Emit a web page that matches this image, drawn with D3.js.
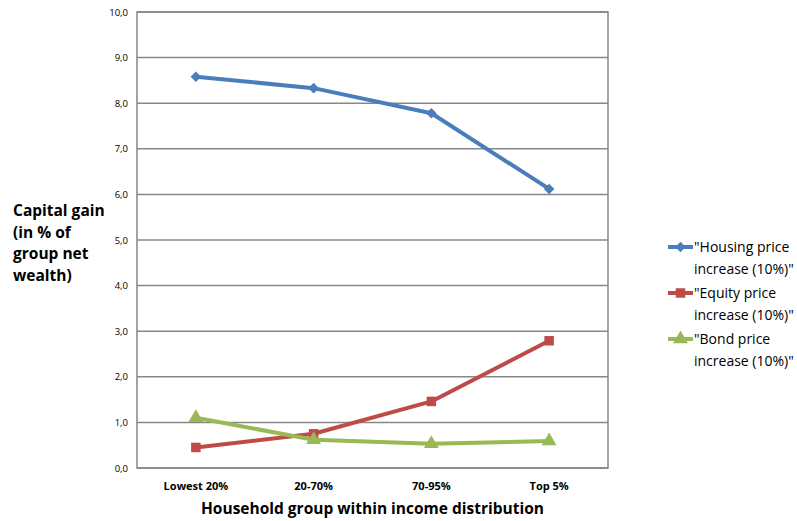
<!DOCTYPE html>
<html>
<head>
<meta charset="utf-8">
<script src="https://cdn.jsdelivr.net/npm/d3@7"></script>
<style>
  html, body { margin: 0; padding: 0; background: #fff; }
  svg { display: block; }
  text { font-family: "Open Sans", "Liberation Sans", sans-serif; fill: #000; }
</style>
</head>
<body>
<svg id="chart" width="797" height="521"></svg>
<script>
// Household groups along the income distribution
const categories = ["Lowest 20%", "20-70%", "70-95%", "Top 5%"];

// Capital gain (% of group net wealth) per scenario
const housing = [8.58, 8.33, 7.78, 6.12];
const equity  = [0.45, 0.75, 1.46, 2.79];
const bond    = [1.10, 0.62, 0.53, 0.59];

const yTicks = [0, 1, 2, 3, 4, 5, 6, 7, 8, 9, 10];

const seriesNames = [
  ["\"Housing price", "increase (10%)\""],
  ["\"Equity price", "increase (10%)\""],
  ["\"Bond price", "increase (10%)\""]
];
const seriesColors = ["#4a7ebb", "#be4b48", "#98b954"];
const seriesData = [housing, equity, bond];

// Marker shapes: square diamond (rotated square), square, triangle
const markerPath = [
  d3.symbol().type(d3.symbolSquare).size(56)(),
  d3.symbol().type(d3.symbolSquare).size(90)(),
  d3.symbol().type(d3.symbolTriangle).size(95)()
];
const markerRotate = [45, 0, 0];

const svg = d3.select("#chart");
const plot = { left: 137, right: 608, top: 12, bottom: 468 };

const x = d3.scaleBand().domain(categories).range([plot.left, plot.right]);
const y = d3.scaleLinear().domain([0, 10]).range([plot.bottom, plot.top]);

// Horizontal gridlines
svg.append("g")
  .selectAll("line")
  .data(yTicks)
  .join("line")
  .attr("x1", plot.left).attr("x2", plot.right)
  .attr("y1", d => y(d)).attr("y2", d => y(d))
  .attr("stroke", "#878787").attr("stroke-width", 1.5);

// Plot frame
svg.append("rect")
  .attr("x", plot.left).attr("y", plot.top)
  .attr("width", plot.right - plot.left).attr("height", plot.bottom - plot.top)
  .attr("fill", "none").attr("stroke", "#878787").attr("stroke-width", 1.5);

// Y axis labels
const yAxis = d3.axisLeft(y).tickValues(yTicks)
  .tickFormat(d => d3.format(".1f")(d).replace(".", ","))
  .tickSize(0).tickPadding(9);
const gy = svg.append("g").attr("transform", `translate(${plot.left},0)`).call(yAxis);
gy.select(".domain").remove();
gy.selectAll("text").style("font-size", "9.5px").style("font-family", "'Open Sans', sans-serif").attr("fill", "#000");

// X axis labels
const xAxis = d3.axisBottom(x).tickSize(0).tickPadding(14);
const gx = svg.append("g").attr("transform", `translate(0,${plot.bottom})`).call(xAxis);
gx.select(".domain").remove();
gx.selectAll("text").style("font-size", "11px").style("font-weight", "bold")
  .style("font-family", "'Open Sans', sans-serif").attr("fill", "#000");

// Series lines and markers
const line = d3.line()
  .x((d, i) => x(categories[i]) + x.bandwidth() / 2)
  .y(d => y(d));

seriesData.forEach((vals, s) => {
  svg.append("path")
    .datum(vals)
    .attr("d", line)
    .attr("fill", "none")
    .attr("stroke", seriesColors[s])
    .attr("stroke-width", 4)
    .attr("stroke-linejoin", "round");
  svg.append("g")
    .selectAll("path")
    .data(vals)
    .join("path")
    .attr("d", markerPath[s])
    .attr("transform", (d, i) =>
      `translate(${x(categories[i]) + x.bandwidth() / 2},${y(d)}) rotate(${markerRotate[s]})`)
    .attr("fill", seriesColors[s]);
});

// Y axis title
const yTitle = svg.append("text")
  .style("font-size", "15.5px").style("font-weight", "bold");
["Capital gain", "(in % of", "group net", "wealth)"].forEach((t, i) => {
  yTitle.append("tspan").attr("x", 13).attr("y", 216 + i * 21.5).text(t);
});

// X axis title
svg.append("text")
  .attr("x", (plot.left + plot.right) / 2).attr("y", 514)
  .attr("text-anchor", "middle")
  .style("font-size", "15.5px").style("font-weight", "bold")
  .text("Household group within income distribution");

// Legend
const legend = svg.append("g");
seriesNames.forEach((lines, s) => {
  const ly = 247 + s * 46;
  const g = legend.append("g");
  g.append("line")
    .attr("x1", 668).attr("x2", 693).attr("y1", ly).attr("y2", ly)
    .attr("stroke", seriesColors[s]).attr("stroke-width", 4);
  g.append("path")
    .attr("d", markerPath[s])
    .attr("transform", `translate(680.5,${ly}) rotate(${markerRotate[s]})`)
    .attr("fill", seriesColors[s]);
  const t = g.append("text").style("font-size", "14px");
  lines.forEach((ln, i) => {
    t.append("tspan").attr("x", 694).attr("y", ly + 5 + i * 21.5).text(ln);
  });
});
</script>
</body>
</html>
